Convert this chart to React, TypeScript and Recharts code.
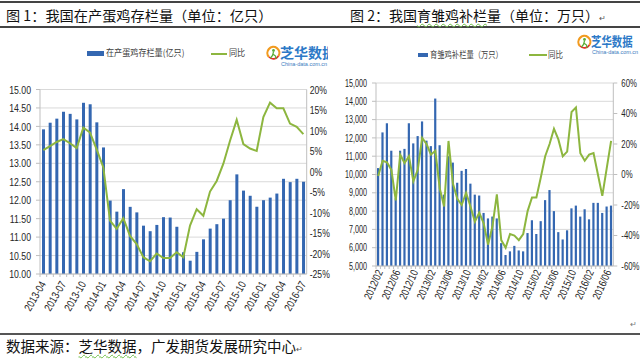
import React from 'react';
import { ComposedChart, Bar, Line, XAxis, YAxis, CartesianGrid } from 'recharts';

// ---------- Chart 1 data: laying hens in production (亿只) ----------
const eggMonths = [
  '2013-04', '2013-05', '2013-06', '2013-07', '2013-08', '2013-09', '2013-10', '2013-11', '2013-12',
  '2014-01', '2014-02', '2014-03', '2014-04', '2014-05', '2014-06', '2014-07', '2014-08', '2014-09',
  '2014-10', '2014-11', '2014-12', '2015-01', '2015-02', '2015-03', '2015-04', '2015-05', '2015-06',
  '2015-07', '2015-08', '2015-09', '2015-10', '2015-11', '2015-12', '2016-01', '2016-02', '2016-03',
  '2016-04', '2016-05', '2016-06', '2016-07',
];
const eggStock = [
  13.92, 14.10, 14.21, 14.40, 14.34, 14.19, 14.64, 14.60, 14.11, 13.43, 11.99, 11.69, 12.30, 11.82,
  11.67, 11.31, 11.16, 11.33, 11.54, 11.53, 11.28, 10.59, 10.36, 10.60, 10.94, 11.23, 11.35, 11.50,
  12.00, 12.70, 12.26, 12.12, 11.82, 12.00, 12.07, 12.18, 12.58, 12.49, 12.58, 12.50,
];
const eggYoY = [
  5.2, 6.2, 7.2, 7.9, 6.9, 5.7, 10.7, 9.5, 5.4, 1.0, -12.0, -14.0, -11.4, -15.7, -17.7, -20.9,
  -21.9, -20.0, -21.1, -21.1, -19.7, -20.9, -13.2, -9.2, -10.8, -4.9, -2.3, 1.9, 7.5, 12.6, 6.7,
  5.6, 5.0, 13.3, 16.8, 15.4, 15.4, 11.7, 10.9, 9.1,
];
const eggLeftTicks = [10, 10.5, 11, 11.5, 12, 12.5, 13, 13.5, 14, 14.5, 15];
const eggRightTicks = [-25, -20, -15, -10, -5, 0, 5, 10, 15, 20];

// ---------- Chart 2 data: chick replenishment (万只) ----------
const chickMonths = [
  '2012/02', '2012/03', '2012/04', '2012/05', '2012/06', '2012/07', '2012/08', '2012/09', '2012/10',
  '2012/11', '2012/12', '2013/01', '2013/02', '2013/03', '2013/04', '2013/05', '2013/06', '2013/07',
  '2013/08', '2013/09', '2013/10', '2013/11', '2013/12', '2014/01', '2014/02', '2014/03', '2014/04',
  '2014/05', '2014/06', '2014/07', '2014/08', '2014/09', '2014/10', '2014/11', '2014/12', '2015/01',
  '2015/02', '2015/03', '2015/04', '2015/05', '2015/06', '2015/07', '2015/08', '2015/09', '2015/10',
  '2015/11', '2015/12', '2016/01', '2016/02', '2016/03', '2016/04', '2016/05', '2016/06', '2016/07',
];
const chickStock = [
  10350, 12300, 12800, 11300, 8700, 11300, 11400, 12800, 11700, 12100, 12900, 11850, 11550, 14150,
  11600, 8900, 11000, 10650, 9550, 10200, 10300, 9500, 8900, 8850, 7900, 7600, 7700, 7600, 6250,
  5600, 5800, 6100, 5850, 5800, 6800, 7500, 6750, 7450, 8600, 9150, 8000, 6850, 6450, 6950, 8150,
  8300, 7700, 8100, 7550, 8450, 8450, 7900, 8250, 8300,
];
const chickYoY = [
  -1, 9, 8, 3, -17, 13, 7.5, 12, -4.5, 3, 24, 20, 13, 15.5, -9, -21, 22, -6, -16, -20, -12, -21,
  -31, -25, -32, -46, -34, -13, -43, -48, -39, -40, -43, -39, -24, -15, -15, -2, 12, 20, 30, 23, 12,
  15, 41, 44, 14, 9, 13, 14, 0, -14, 4, 22,
];
const chickLeftTicks = [5000, 6000, 7000, 8000, 9000, 10000, 11000, 12000, 13000, 14000, 15000];
const chickRightTicks = [-60, -40, -20, 0, 20, 40, 60];

const eggData = eggMonths.map((m, i) => ({ m, v: eggStock[i], y: eggYoY[i] }));
const chickData = chickMonths.map((m, i) => ({ m, v: chickStock[i], y: chickYoY[i] }));

const FONT_CN = "'Noto Sans CJK SC', sans-serif";
const FONT_NUM = "'Liberation Sans', Arial, sans-serif";
const BLUE = '#3467B1';
const GREEN = '#8DB63F';
const GRID = '#D9D9D9';
const AXIS = '#BFBFBF';
const TXT = '#262626';

function makeTick(step: number, angle: number, dx: number, dy: number, fs: number, sx: number, half: number) {
  return (props: any) => {
    const { x, y, payload, index } = props;
    return (
      <g>
        <line x1={x - half} x2={x - half} y1={y} y2={y + 3} stroke={AXIS} strokeWidth={1} />
        {index % step === 0 ? (
          <text
            transform={`translate(${x + dx},${y + dy}) rotate(${angle}) scale(${sx},1)`}
            textAnchor="end"
            fontSize={fs}
            fontFamily={FONT_NUM}
            fill={TXT}
          >
            {payload.value}
          </text>
        ) : null}
      </g>
    );
  };
}

function makeYTick(fs: number, sx: number, fmt: (v: number) => string) {
  return (props: any) => {
    const { x, y, payload, textAnchor } = props;
    return (
      <text
        transform={`translate(${x},${y}) scale(${sx},1)`}
        textAnchor={textAnchor}
        dy="0.36em"
        fontSize={fs}
        fontFamily={FONT_NUM}
        fill={TXT}
      >
        {fmt(payload.value)}
      </text>
    );
  };
}

function Logo({ left, top, fs, sx, clipW }: { left: number; top: number; fs: number; sx: number; clipW?: number }) {
  return (
    <div
      style={{
        position: 'absolute',
        left,
        top,
        width: clipW ?? 80,
        height: 26,
        overflow: clipW ? 'hidden' : 'visible',
      }}
    >
      <svg width={15} height={18} style={{ position: 'absolute', left: 0, top: 1 }}>
        <path d="M3 12 A6 6 0 1 1 12.5 11" fill="none" stroke="#F29B1F" strokeWidth={2.2} />
        <path d="M3 12 A6 6 0 0 0 12.5 11" fill="none" stroke="#E2332B" strokeWidth={1.6} />
        <circle cx={7.5} cy={5.5} r={1.4} fill="#5BAE3A" />
        <path d="M7.5 7 L6.5 10.5 L4.5 13 M6.8 9 L9.5 11 L10 14" fill="none" stroke="#5BAE3A" strokeWidth={1.3} />
      </svg>
      <div
        style={{
          position: 'absolute',
          left: 14,
          top: 0,
          fontSize: fs,
          lineHeight: `${fs + 2}px`,
          fontWeight: 700,
          color: '#2C79C7',
          whiteSpace: 'nowrap',
          transform: `scaleX(${sx})`,
          transformOrigin: 'left top',
          fontFamily: FONT_CN,
        }}
      >
        芝华数据
      </div>
      <div
        style={{
          position: 'absolute',
          left: 15,
          top: fs + 3,
          fontSize: 5.5,
          lineHeight: '6px',
          color: '#3B7CC0',
          whiteSpace: 'nowrap',
          fontFamily: FONT_NUM,
        }}
      >
        China-data.com.cn
      </div>
    </div>
  );
}

function LegendText({ left, top, text, sx }: { left: number; top: number; text: string; sx: number }) {
  return (
    <div
      style={{
        position: 'absolute',
        left,
        top,
        fontSize: 9,
        lineHeight: '12px',
        color: '#404040',
        whiteSpace: 'nowrap',
        transform: `scaleX(${sx})`,
        transformOrigin: 'left top',
        fontFamily: FONT_CN,
      }}
    >
      {text}
    </div>
  );
}

export default function App() {
  const eggTick = makeTick(3, -60, 3, 10, 11, 0.8, 266.7 / 40 / 2);
  const chickTick = makeTick(4, -66, 5, 6, 11, 0.78, 237.3 / 54 / 2);
  const eggLeft = makeYTick(11.5, 0.76, (v) => v.toFixed(2));
  const eggRight = makeYTick(11.5, 0.75, (v) => `${v}%`);
  const chickLeft = makeYTick(10, 0.72, (v) => v.toLocaleString('en-US'));
  const chickRight = makeYTick(10, 0.78, (v) => `${v}%`);
  return (
    <div
      style={{
        position: 'absolute',
        left: 0,
        top: 0,
        width: 640,
        height: 359,
        background: '#fff',
        overflow: 'hidden',
        fontFamily: FONT_CN,
      }}
    >
      {/* document rules */}
      <div style={{ position: 'absolute', left: 0, top: 1, width: 640, height: 1.5, background: '#444' }} />
      <div style={{ position: 'absolute', left: 0, top: 26, width: 640, height: 1.5, background: '#444' }} />
      <div style={{ position: 'absolute', left: 0, top: 333, width: 640, height: 2, background: '#555' }} />

      {/* titles */}
      <div style={{ position: 'absolute', left: 6, top: 5, fontSize: 14.2, lineHeight: '20px', color: '#111', whiteSpace: 'nowrap' }}>
        图 1：我国在产蛋鸡存栏量（单位：亿只）
      </div>
      <div style={{ position: 'absolute', left: 350, top: 5, fontSize: 14, lineHeight: '20px', color: '#111', whiteSpace: 'nowrap' }}>
        图 2：我国
        <span style={{ textDecoration: 'underline wavy #6DBE45', textDecorationThickness: 1, textUnderlineOffset: 2 }}>育雏鸡补栏</span>
        量（单位：万只）<span style={{ fontSize: 8, color: '#555' }}>↵</span>
      </div>

      {/* left panel */}
      <div style={{ position: 'absolute', left: 0, top: 0, width: 331, height: 335, overflow: 'hidden' }}>
        <div style={{ position: 'absolute', left: 87, top: 51, width: 17, height: 5, background: BLUE }} />
        <LegendText left={106} top={47} text="在产蛋鸡存栏量(亿只)" sx={0.9} />
        <div style={{ position: 'absolute', left: 211, top: 52.5, width: 16, height: 2, background: GREEN }} />
        <LegendText left={229} top={47} text="同比" sx={0.9} />
        <Logo left={266} top={44} fs={14} sx={1} clipW={62} />
        <div style={{ position: 'absolute', left: 0, top: 0 }}>
          <ComposedChart width={340} height={335} data={eggData} margin={{ top: 89.5, right: 0, bottom: 21, left: 0 }}>
            <CartesianGrid yAxisId="l" vertical={false} stroke={GRID} />
            <XAxis
              dataKey="m"
              height={40}
              interval={0}
              tickLine={false}
              tickSize={0}
              tickMargin={0}
              axisLine={{ stroke: AXIS }}
              tick={eggTick}
            />
            <YAxis
              yAxisId="l"
              width={40}
              domain={[10, 15]}
              ticks={eggLeftTicks}
              tick={eggLeft}
              tickSize={4}
              tickMargin={5}
              axisLine={{ stroke: AXIS }}
              tickLine={{ stroke: AXIS }}
              interval={0}
            />
            <YAxis
              yAxisId="r"
              orientation="right"
              width={33.3}
              domain={[-25, 20]}
              ticks={eggRightTicks}
              tick={eggRight}
              tickSize={0}
              tickMargin={3}
              axisLine={{ stroke: AXIS }}
              tickLine={false}
              interval={0}
            />
            <Bar yAxisId="l" dataKey="v" fill={BLUE} barSize={3} isAnimationActive={false} />
            <Line yAxisId="r" dataKey="y" stroke={GREEN} strokeWidth={2} dot={false} type="linear" isAnimationActive={false} />
          </ComposedChart>
        </div>
      </div>

      {/* right panel */}
      <div style={{ position: 'absolute', left: 418, top: 53.3, width: 10, height: 4, background: BLUE }} />
      <LegendText left={430} top={49} text="育雏鸡补栏量（万只）" sx={0.81} />
      <div style={{ position: 'absolute', left: 529, top: 54, width: 18, height: 2, background: GREEN }} />
      <LegendText left={548} top={49} text="同比" sx={0.83} />
      <Logo left={577} top={33} fs={13} sx={0.8} />
      <div style={{ position: 'absolute', left: 330, top: 0 }}>
        <ComposedChart width={310} height={335} data={chickData} margin={{ top: 83, right: 0, bottom: 24, left: 0 }}>
          <CartesianGrid yAxisId="l" vertical={false} stroke={GRID} />
          <XAxis
            dataKey="m"
            height={45}
            interval={0}
            tickLine={false}
            tickSize={0}
            tickMargin={0}
            axisLine={{ stroke: AXIS }}
            tick={chickTick}
          />
          <YAxis
            yAxisId="l"
            width={46}
            domain={[5000, 15000]}
            ticks={chickLeftTicks}
            tick={chickLeft}
            tickSize={4}
            tickMargin={5}
            axisLine={{ stroke: AXIS }}
            tickLine={{ stroke: AXIS }}
            interval={0}
          />
          <YAxis
            yAxisId="r"
            orientation="right"
            width={26.7}
            domain={[-60, 60]}
            ticks={chickRightTicks}
            tick={chickRight}
            tickSize={4}
            tickMargin={4}
            axisLine={{ stroke: AXIS }}
            tickLine={{ stroke: AXIS }}
            interval={0}
          />
          <Bar yAxisId="l" dataKey="v" fill={BLUE} barSize={2.2} isAnimationActive={false} />
          <Line yAxisId="r" dataKey="y" stroke={GREEN} strokeWidth={2} dot={false} type="linear" isAnimationActive={false} />
        </ComposedChart>
      </div>
      <div style={{ position: 'absolute', left: 630, top: 318, fontSize: 8, color: '#777' }}>↵</div>

      {/* footer */}
      <div style={{ position: 'absolute', left: 6, top: 336, fontSize: 14.5, lineHeight: '20px', color: '#111', whiteSpace: 'nowrap' }}>
        数据来源：
        <span style={{ textDecoration: 'underline wavy #6DBE45', textDecorationThickness: 1, textUnderlineOffset: 2 }}>芝华数据</span>
        ，广发期货发展研究中心<span style={{ fontSize: 8, color: '#555' }}>↵</span>
      </div>
    </div>
  );
}
